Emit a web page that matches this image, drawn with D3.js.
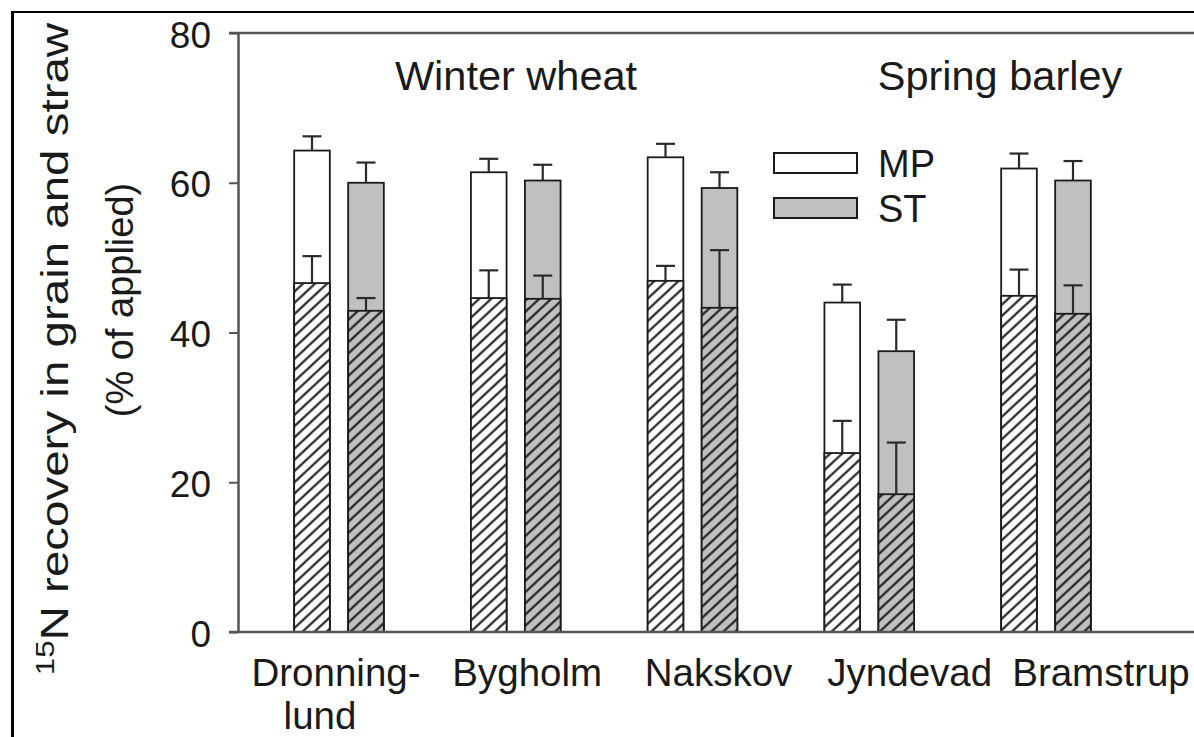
<!DOCTYPE html>
<html><head><meta charset="utf-8">
<script src="https://cdn.jsdelivr.net/npm/d3@7"></script>
<style>html,body{margin:0;padding:0;background:#fff;}svg{display:block;font-family:"Liberation Sans",Arial,sans-serif;}</style>
</head><body>
<svg id="c" width="1194" height="737"></svg>
<script>
const sites = ["Dronninglund","Bygholm","Nakskov","Jyndevad","Bramstrup"];
const siteLabels = [["Dronning-","lund"],["Bygholm"],["Nakskov"],["Jyndevad"],["Bramstrup"]];
const treatments = ["MP","ST"];
const grainMP    = [46.6, 44.6, 46.9, 23.9, 44.9];
const grainMPerr = [3.6, 3.7, 2.0, 4.3, 3.5];
const totalMP    = [64.3, 61.4, 63.4, 44.0, 61.9];
const totalMPerr = [1.9, 1.8, 1.8, 2.4, 2.0];
const grainST    = [42.9, 44.5, 43.3, 18.4, 42.5];
const grainSTerr = [1.7, 3.1, 7.7, 6.9, 3.8];
const totalST    = [60.0, 60.3, 59.3, 37.5, 60.3];
const totalSTerr = [2.7, 2.1, 2.1, 4.2, 2.6];
const yTicks = [0, 20, 40, 60, 80];
const cropGroups = ["Winter wheat", "Spring barley"];

const svg = d3.select("#c");
const W = 1194, H = 737;
const axisCol = "#555";
const ink = "#1a1a1a";

const y = d3.scaleLinear().domain([0, 80]).range([632, 33]);
const x = d3.scalePoint().domain(sites).range([339, 1046]);
const xLab = d3.scalePoint().domain(sites).range([336, 1101]);
const xt = d3.scaleBand().domain(treatments).range([-54, 54]).paddingInner(0.34).paddingOuter(0.17);
const xHead = d3.scalePoint().domain(cropGroups).range([516, 1000]);

// hatch pattern
const defs = svg.append("defs");
const pat = defs.append("pattern").attr("id","hatch").attr("patternUnits","userSpaceOnUse")
  .attr("width", 10).attr("height", 8.2).attr("patternTransform","rotate(-43)");
pat.append("line").attr("x1",-1).attr("x2",11).attr("y1",4.1).attr("y2",4.1)
  .attr("stroke", ink).attr("stroke-width", 2.1);

// outer frame
svg.append("line").attr("x1",12.5).attr("x2",12.5).attr("y1",11).attr("y2",H).attr("stroke","#000").attr("stroke-width",3);
svg.append("line").attr("x1",11).attr("x2",W).attr("y1",12).attr("y2",12).attr("stroke","#000").attr("stroke-width",2);

// data rows
const rows = [];
sites.forEach((s,i)=>{
  rows.push({site:s, t:"MP", grain:grainMP[i], gErr:grainMPerr[i], total:totalMP[i], tErr:totalMPerr[i], fill:"#ffffff"});
  rows.push({site:s, t:"ST", grain:grainST[i], gErr:grainSTerr[i], total:totalST[i], tErr:totalSTerr[i], fill:"#c0c0c0"});
});
const bx = d => x(d.site) + xt(d.t);
const bw = xt.bandwidth();
const capW = 19;

const g = svg.append("g");
function errBar(cx, v, e){
  g.append("line").attr("x1",cx).attr("x2",cx).attr("y1",y(v)).attr("y2",y(v+e)).attr("stroke","#2a2a2a").attr("stroke-width",2.2);
  g.append("line").attr("x1",cx-capW/2).attr("x2",cx+capW/2).attr("y1",y(v+e)).attr("y2",y(v+e)).attr("stroke","#2a2a2a").attr("stroke-width",2.2);
}
g.selectAll("rect.tot").data(rows).join("rect").attr("class","tot")
  .attr("x", bx).attr("width", bw).attr("y", d=>y(d.total)).attr("height", d=>y(0)-y(d.total))
  .attr("fill", d=>d.fill).attr("stroke", ink).attr("stroke-width",1.8);
g.selectAll("rect.gbg").data(rows).join("rect").attr("class","gbg")
  .attr("x", bx).attr("width", bw).attr("y", d=>y(d.grain)).attr("height", d=>y(0)-y(d.grain))
  .attr("fill", d=>d.fill);
g.selectAll("rect.ghatch").data(rows).join("rect").attr("class","ghatch")
  .attr("x", bx).attr("width", bw).attr("y", d=>y(d.grain)).attr("height", d=>y(0)-y(d.grain))
  .attr("fill", "url(#hatch)").attr("stroke", ink).attr("stroke-width",1.8);
rows.forEach(d=>{
  const cx = bx(d) + bw/2;
  errBar(cx, d.total, d.tErr);
  errBar(cx, d.grain, d.gErr);
});

// axes
const ya = svg.append("g").attr("transform","translate(238,0)")
  .call(d3.axisLeft(y).tickValues(yTicks).tickSize(9).tickSizeOuter(0).tickPadding(18));
ya.select(".domain").attr("stroke",axisCol).attr("stroke-width",2.5);
ya.selectAll(".tick line").attr("stroke",axisCol).attr("stroke-width",2);
ya.selectAll(".tick text").attr("font-size",37).attr("fill",ink).attr("font-family","'Liberation Sans',Arial,sans-serif").attr("dy","0.38em");
svg.append("line").attr("x1",229).attr("x2",W).attr("y1",y(0)).attr("y2",y(0)).attr("stroke",axisCol).attr("stroke-width",2.5);
svg.append("line").attr("x1",229).attr("x2",W).attr("y1",y(80)).attr("y2",y(80)).attr("stroke",axisCol).attr("stroke-width",2.5);

// category labels
siteLabels.forEach((lines,i)=>{
  const t = svg.append("text").attr("text-anchor","middle").attr("font-size",38.5).attr("fill",ink);
  lines.forEach((ln,j)=>{
    t.append("tspan").attr("x", xLab(sites[i]) - j*16).attr("y", 686 + j*43).text(ln);
  });
});

// crop headers
cropGroups.forEach(c=>{
  svg.append("text").attr("x", xHead(c)).attr("y", 90).attr("text-anchor","middle")
    .attr("font-size",41.5).attr("fill",ink).text(c);
});

// legend
const leg = svg.append("g").attr("transform","translate(774,153)");
[["MP","#ffffff"],["ST","#c0c0c0"]].forEach(([n,f],i)=>{
  leg.append("rect").attr("x",0).attr("y",i*45).attr("width",83).attr("height",20)
    .attr("fill",f).attr("stroke",ink).attr("stroke-width",2);
  leg.append("text").attr("x",104).attr("y",i*45+24).attr("font-size",38).attr("fill",ink).text(n);
});

// y title
const yt = svg.append("text").attr("transform","translate(68,349) rotate(-90) scale(1.25,1)").attr("text-anchor","middle")
  .attr("font-size",38).attr("fill",ink);
yt.append("tspan").attr("font-size",25).attr("dy","-14").text("15");
yt.append("tspan").attr("dy","14").text("N recovery in grain and straw");
svg.append("text").attr("transform","translate(133,300) rotate(-90)").attr("text-anchor","middle")
  .attr("font-size",38).attr("fill",ink).text("(% of applied)");
</script>
</body></html>
